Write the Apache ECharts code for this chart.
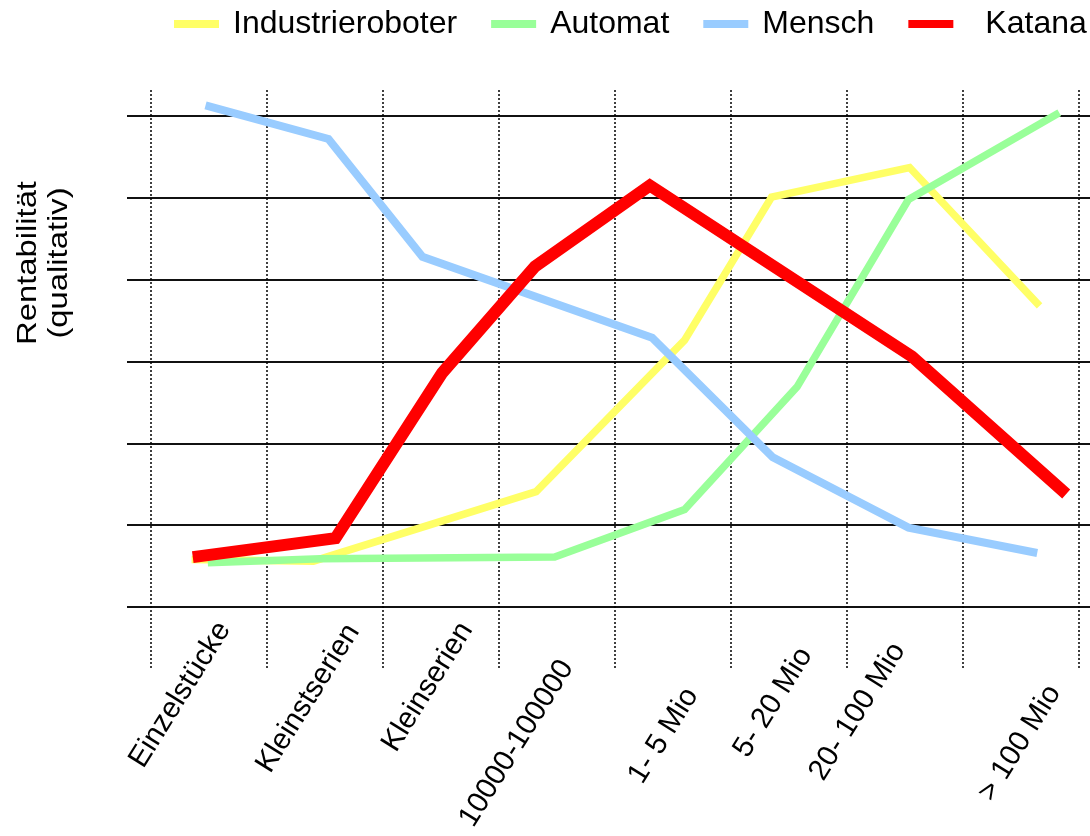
<!DOCTYPE html>
<html>
<head>
<meta charset="utf-8">
<script src="https://cdn.jsdelivr.net/npm/echarts@6/dist/echarts.min.js"></script>
<style>
html,body{margin:0;padding:0;background:#fff;}
#chart{width:1090px;height:836px;}
</style>
</head>
<body>
<div id="chart"></div>
<script>
// ---- data (x in category units from left edge of first column, y in grid units) ----
const categories = ['Einzelstücke','Kleinstserien','Kleinserien','10000-100000','1- 5 Mio','5- 20 Mio','20- 100 Mio','> 100 Mio'];
const seriesNames = ['Industrieroboter','Automat','Mensch','Katana'];
const industrieX = [0.35, 1.40, 3.32, 4.60, 5.35, 6.54, 7.66];
const industrieY = [0.58, 0.56, 1.41, 3.26, 5.01, 5.37, 3.68];
const automatX   = [0.49, 1.46, 3.48, 4.60, 5.57, 6.53, 7.83];
const automatY   = [0.54, 0.59, 0.61, 1.19, 2.69, 4.98, 6.04];
const menschX    = [0.47, 1.53, 2.34, 4.32, 5.36, 6.53, 7.64];
const menschY    = [6.13, 5.72, 4.28, 3.29, 1.83, 0.97, 0.66];
const katanaX    = [0.36, 1.59, 2.51, 3.31, 4.30, 6.56, 7.89];
const katanaY    = [0.61, 0.84, 2.86, 4.16, 5.15, 3.06, 1.38];
const yTicks = [0, 1, 2, 3, 4, 5, 6];

// per-label placement styling (padding right, vertical shift) to mimic the irregular label layout
const labelShiftR = [7, 2, 2, 42, 61, 28, 36, 51];
const labelShiftS = [-12, 0, -3, 4, 26, 3, -19, 37];

function pairs(xs, ys){ return xs.map((x,i)=>[x, ys[i]]); }
function labelStyle(i){
  const s = labelShiftS[i];
  const st = {padding: [0, labelShiftR[i], 0, 0]};
  if (s > 1) { st.verticalAlign = 'top'; st.lineHeight = 2*s; }
  else if (s < -1) { st.verticalAlign = 'bottom'; st.lineHeight = -2*s; }
  return st;
}

const font = 'Liberation Sans, Arial, sans-serif';
const colors = ['#ffff66','#99ff99','#99ccff','#ff0000'];
const widths = [7.5, 7.5, 8, 12];
const dataSets = [pairs(industrieX,industrieY), pairs(automatX,automatY), pairs(menschX,menschY), pairs(katanaX,katanaY)];

const chart = echarts.init(document.getElementById('chart'), null, {renderer:'canvas'});
const option = {
  animation: false,
  backgroundColor: '#ffffff',
  legend: {
    left: 174, top: 8, width: 1000, padding: 0,
    icon: 'rect', itemWidth: 45, itemHeight: 8, itemGap: 34,
    textStyle: {fontFamily: font, fontSize: 32, color: '#000', padding: [0,0,0,9]},
    data: seriesNames.map(n => n === 'Katana'
      ? {name: n, textStyle: {padding: [0,0,0,27]}}
      : {name: n})
  },
  graphic: [{
    type: 'text', x: 44, y: 263, rotation: Math.PI/2, scaleX: 1.17,
    style: {text: 'Rentabilität\n(qualitativ)', fontSize: 28, fontFamily: font, lineHeight: 31,
            textAlign: 'center', textVerticalAlign: 'middle', align: 'center', verticalAlign: 'middle', fill: '#000'}
  }],
  grid: [
    {left: 151, right: 11, top: 90, bottom: 166, outerBoundsMode: 'none', containLabel: false},
    {left: 127, right: 0, top: 116, bottom: 229, outerBoundsMode: 'none', containLabel: false},
    {left: 180, right: -18, top: 90, bottom: 229, outerBoundsMode: 'none', containLabel: false}
  ],
  xAxis: [
    {type: 'category', gridIndex: 0, data: categories, boundaryGap: true,
     axisLine: {show: false}, axisTick: {show: false}, axisLabel: {show: false},
     splitLine: {show: true, interval: 0, lineStyle: {color: '#000', width: 1.5, type: [2,2]}}},
    {type: 'value', gridIndex: 1, min: -0.207, max: 8.095,
     axisLine: {show: false}, axisTick: {show: false}, axisLabel: {show: false}, splitLine: {show: false}},
    {type: 'category', gridIndex: 2, boundaryGap: true,
     data: categories.map((c,i) => ({value: c, textStyle: labelStyle(i)})),
     axisLine: {show: false}, axisTick: {show: false}, splitLine: {show: false},
     axisLabel: {show: true, interval: 0, rotate: 58, margin: 18, fontFamily: font, fontSize: 29.5, color: '#000'}}
  ],
  yAxis: [
    {type: 'value', gridIndex: 0, min: 0, max: 1, show: false},
    {type: 'value', gridIndex: 1, min: yTicks[0], max: yTicks[yTicks.length-1], interval: 1,
     axisLine: {show: false}, axisTick: {show: false}, axisLabel: {show: false},
     splitLine: {show: true, lineStyle: {color: '#111', width: 2}}},
    {type: 'value', gridIndex: 2, min: 0, max: 1, show: false}
  ],
  series: seriesNames.map((n,i) => ({
    name: n, type: 'line', xAxisIndex: 1, yAxisIndex: 1, clip: false,
    data: dataSets[i], symbol: 'none', showSymbol: false, smooth: false,
    itemStyle: {color: colors[i]},
    lineStyle: {color: colors[i], width: widths[i], cap: 'butt', join: 'miter'},
    z: 2 + i
  }))
};
chart.setOption(option);
</script>
</body>
</html>
